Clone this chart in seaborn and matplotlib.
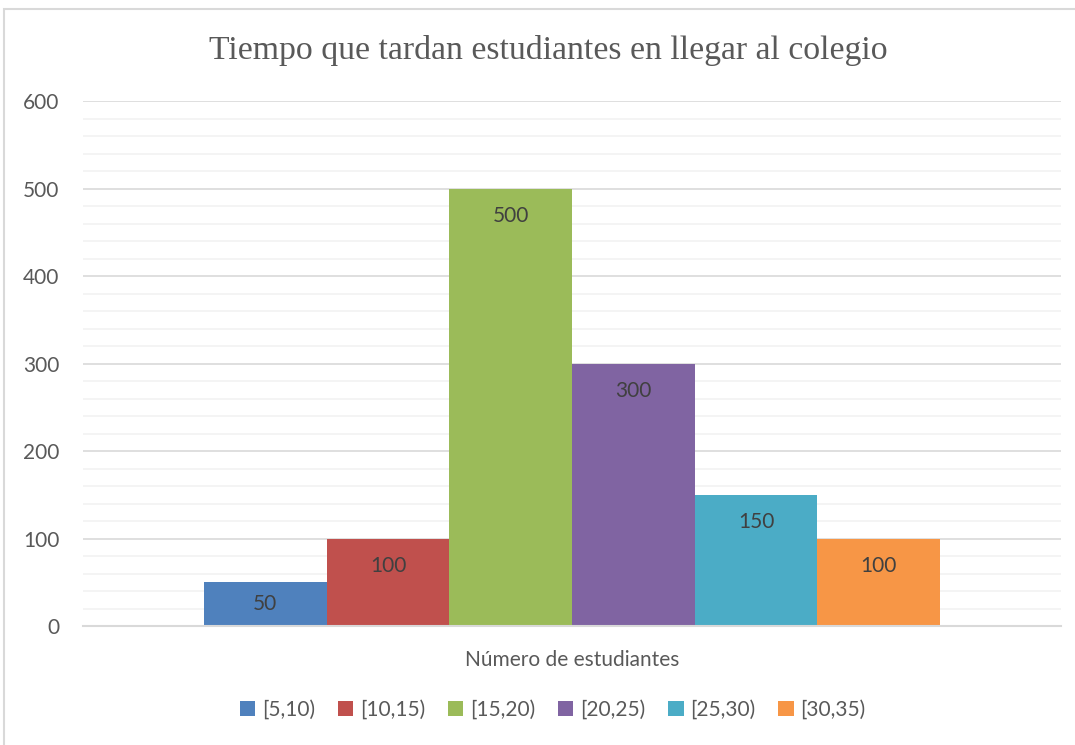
import numpy as np
import pandas as pd
import matplotlib.pyplot as plt
import seaborn as sns
from matplotlib.patches import Rectangle
from matplotlib.ticker import MultipleLocator

# datos
intervalos = ["[5,10)", "[10,15)", "[15,20)", "[20,25)", "[25,30)", "[30,35)"]
estudiantes = [50, 100, 500, 300, 150, 100]
categoria = "Número de estudiantes"
colores = ["#4F81BD", "#C0504D", "#9BBB59", "#8064A2", "#4BACC6", "#F79646"]

df = pd.DataFrame({"cat": [categoria] * len(intervalos),
                   "intervalo": intervalos,
                   "n": estudiantes})

sns.set_style("white")
plt.rcParams['font.family'] = ['Lato', 'DejaVu Sans']

fig = plt.figure(figsize=(10.75, 7.45), dpi=100)
ax = fig.add_axes([0.0772, 0.1597, 0.9098, 0.7047])

sns.barplot(data=df, x="cat", y="n", hue="intervalo", hue_order=intervalos,
            palette=colores, width=0.7526, gap=0, saturation=1,
            edgecolor="none", linewidth=0, ax=ax, legend=True)

ax.set_xlim(-0.5, 0.5)
ax.set_ylim(0, 600)
ax.yaxis.set_major_locator(MultipleLocator(100))
ax.yaxis.set_minor_locator(MultipleLocator(20))
ax.grid(axis="y", which="minor", color="#f2f2f2", lw=1.2, zorder=0)
ax.grid(axis="y", which="major", color="#d9d9d9", lw=1.2, zorder=0)
ax.set_axisbelow(True)
for s in ["top", "right", "left"]:
    ax.spines[s].set_visible(False)
ax.spines["bottom"].set_color("#d9d9d9")
ax.spines["bottom"].set_linewidth(1.5)
ax.tick_params(axis="y", which="both", length=0, pad=17, labelsize=15,
               labelcolor="#595959")
ax.tick_params(axis="x", length=0, pad=17, labelsize=15, labelcolor="#595959")
ax.set_xlabel("")
ax.set_ylabel("")

# etiquetas de valor
for cont in ax.containers:
    val = cont.datavalues[0]
    if val < 80:
        ax.bar_label(cont, label_type="center", fontsize=15, color="#404040")
    else:
        ax.bar_label(cont, padding=-27, fontsize=15, color="#404040")

ax.legend(loc="center", bbox_to_anchor=(0.48, -0.16), ncol=6,
          frameon=False, fontsize=15, labelcolor="#595959",
          handlelength=0.75, handleheight=0.75, handletextpad=0.3,
          columnspacing=1.1)

fig.text(0.51, 0.932, "Tiempo que tardan estudiantes en llegar al colegio",
         ha="center", va="center", fontsize=24.3, color="#595959",
         family=["Liberation Serif", "DejaVu Serif"])

# borde
fig.patches.append(Rectangle((4 / 1075, -0.1), 1.2, 1.1 - 9 / 745,
                             transform=fig.transFigure, fill=False,
                             edgecolor="#d9d9d9", lw=1.5))

plt.savefig("out.png", dpi=100)
